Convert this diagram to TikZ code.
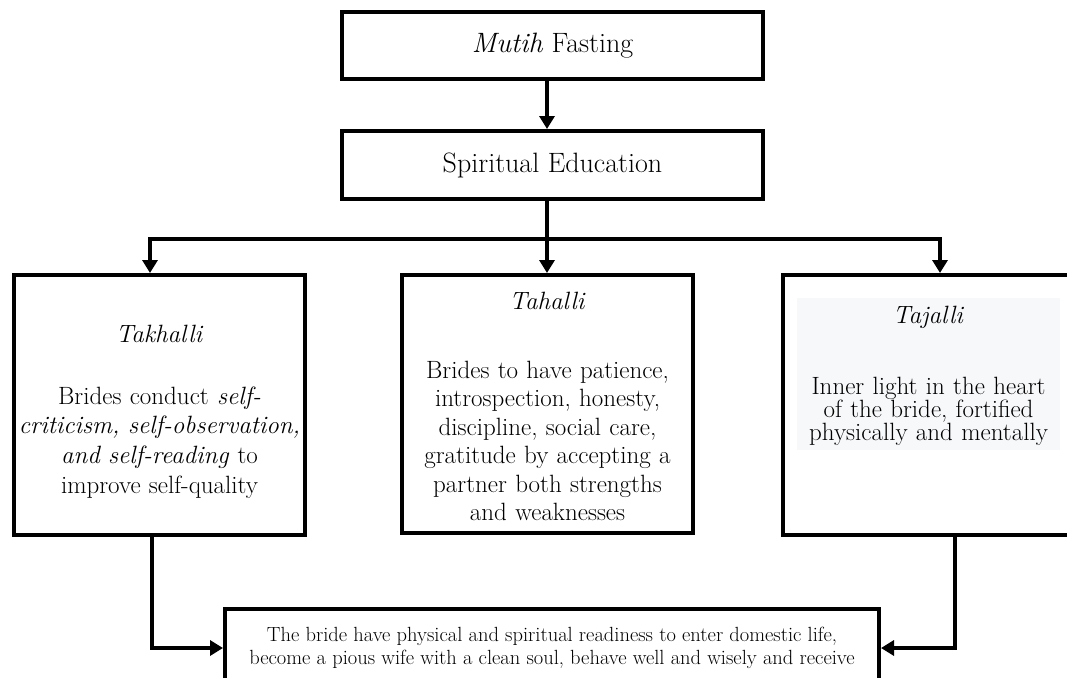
\documentclass[tikz,border=0pt]{standalone}
\usetikzlibrary{arrows.meta,positioning}
\definecolor{pale}{HTML}{F7F8FA}

\tikzset{
  box/.style={draw, line width=4pt, inner sep=0pt, align=center},
  link/.style={line width=4pt, -{Triangle[length=13pt,width=15pt]}},
  big/.style={font=\fontsize{28}{32}\selectfont},
  body/.style={inner sep=0pt, text width=285pt, align=center, anchor=base}
}

\begin{document}
\begin{tikzpicture}[x=1pt,y=-1pt]
\useasboundingbox (0,0) rectangle (1067,677);

% fasting and education
\node[box,big,minimum width=421pt,minimum height=67pt] (fast) at (552.5,45.5) {\textit{Mutih} Fasting};
\node[box,big,minimum width=421pt,minimum height=68pt] (edu) at (552.5,165) {Spiritual Education};

% the three stages
\node[box,minimum width=291pt,minimum height=260pt] (takh) at (159.5,405) {};
\node[box,minimum width=291pt,minimum height=258pt] (tahal) at (547.5,404) {};
\node[box,minimum width=314pt,minimum height=260pt] (tajal) at (940,405) {};
\fill[pale] (797,298) rectangle (1060,450);

\node[body,font=\fontsize{25}{29.7}\selectfont] (takhtext) at (takh.center |- 0,342)
  {\textit{Takhalli}\\[32.3pt]
   Brides conduct \textit{self-}\\
   \textit{criticism, self-observation,}\\
   \textit{and self-reading} to\\
   improve self-quality};
\node[body,font=\fontsize{25}{28.5}\selectfont] (tahaltext) at (tahal.center |- 0,309)
  {\textit{Tahalli}\\[40.5pt]
   Brides to have patience,\\
   introspection, honesty,\\
   discipline, social care,\\
   gratitude by accepting a\\
   partner both strengths\\
   and weaknesses};
\node[body,font=\fontsize{25}{22.5}\selectfont] (tajaltext) at (928.5,323)
  {\textit{Tajalli}\\[48.5pt]
   Inner light in the heart\\
   of the bride, fortified\\
   physically and mentally};

% readiness
\node[box,font=\fontsize{20.5}{23}\selectfont,minimum width=654pt,minimum height=78pt] (ready) at (552,648)
  {The bride have physical and spiritual readiness to enter domestic life,\\
   become a pious wife with a clean soul, behave well and wisely and receive};

% connectors
\coordinate (split) at (547,239);
\draw[link] (fast.south -| split) -- (edu.north -| split);
\draw[line width=4pt] (edu.south -| split) -- (split);
\draw[link] (split) -| ([xshift=-9.5pt]takh.north);
\draw[link] (split) -- (tahal.north -| split);
\draw[link] (split) -| (tajal.north);
\draw[link] ([xshift=-7.5pt]takh.south) |- (ready.west);
\draw[link] ([xshift=15pt]tajal.south) |- (ready.east);
\end{tikzpicture}
\end{document}
